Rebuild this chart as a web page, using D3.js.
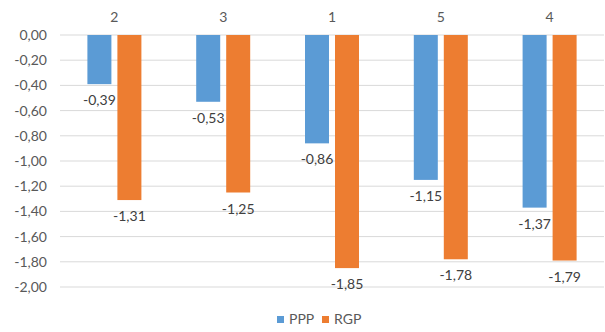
<!DOCTYPE html>
<html><head><meta charset="utf-8">
<script src="https://cdn.jsdelivr.net/npm/d3@7"></script>
<style>body{margin:0;background:#fff}svg{display:block;font-family:Lato,"Open Sans",sans-serif}</style>
</head><body><svg id="c" width="605" height="332"></svg>
<script>
const categories = ["2","3","1","5","4"];
const seriesNames = ["PPP","RGP"];
const ppp = [-0.39,-0.53,-0.86,-1.15,-1.37];
const rgp = [-1.31,-1.25,-1.85,-1.78,-1.79];
const yTicks = [0,-0.2,-0.4,-0.6,-0.8,-1.0,-1.2,-1.4,-1.6,-1.8,-2.0];
const colors = ["#5B9BD5","#ED7D31"];

const svg = d3.select("#c");
const x0 = d3.scaleBand().domain(categories).range([60,604]).paddingInner(0).paddingOuter(0);
const y = d3.scaleLinear().domain([0,-2]).range([35,287]);
const fmt = v => d3.format(".2f")(v).replace(".",",").replace("−","-");

// gridlines
svg.append("g").selectAll("line").data(yTicks).join("line")
  .attr("x1",60).attr("x2",604).attr("y1",d=>y(d)).attr("y2",d=>y(d))
  .attr("stroke","#d9d9d9").attr("stroke-width",1);

// y axis labels
const yAxis = d3.axisLeft(y).tickValues(yTicks).tickFormat(fmt).tickSize(0).tickPadding(0);
const ga = svg.append("g").attr("transform","translate(47,0)").call(yAxis);
ga.select(".domain").remove();
ga.selectAll("text").attr("fill","#595959").attr("font-size","14px").attr("font-family","Lato,'Open Sans',sans-serif");

// category labels on top
svg.append("g").selectAll("text").data(categories).join("text")
  .attr("x",d=>x0(d)+x0.bandwidth()/2).attr("y",22).attr("text-anchor","middle")
  .attr("fill","#595959").attr("font-size","14px").text(d=>d);

const data = categories.map((c,i)=>({c, vals:[ppp[i],rgp[i]]}));
const barW = 24, gap = 6;
const offs = [-(gap/2+barW), gap/2];
const g = svg.append("g");
data.forEach(d=>{
  const cx = x0(d.c)+x0.bandwidth()/2;
  d.vals.forEach((v,j)=>{
    const bx = cx+offs[j];
    g.append("rect").attr("x",bx).attr("y",y(0)).attr("width",barW).attr("height",y(v)-y(0))
      .attr("fill",colors[j]);
    g.append("text").attr("x",bx+barW/2).attr("y",y(v)+21).attr("text-anchor","middle")
      .attr("fill","#404040").attr("font-size","14px").text(fmt(v));
  });
});

// legend
const leg = svg.append("g");
const legItems = [{n:seriesNames[0],x:277},{n:seriesNames[1],x:322}];
legItems.forEach((it,j)=>{
  leg.append("rect").attr("x",it.x).attr("y",316).attr("width",7).attr("height",7).attr("fill",colors[j]);
  leg.append("text").attr("x",it.x+12).attr("y",324).attr("fill","#595959").attr("font-size","14px").text(it.n);
});
</script></body></html>
